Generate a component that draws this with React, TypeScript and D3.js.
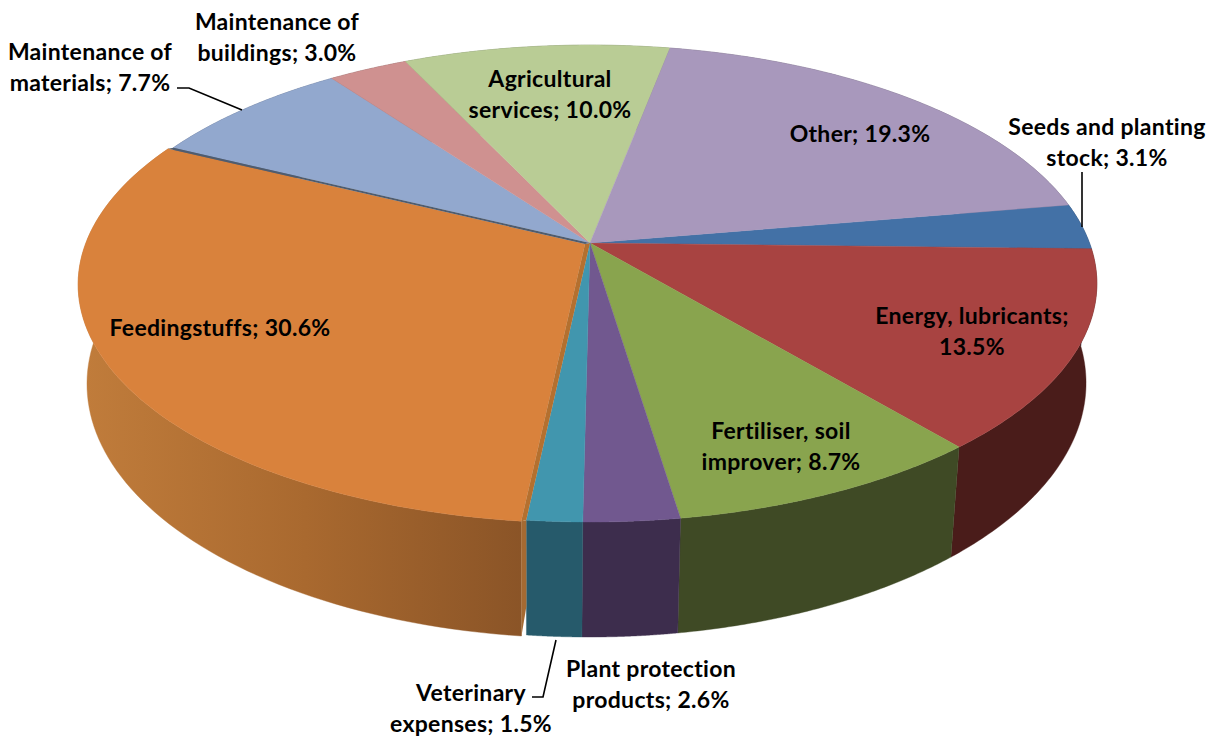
import React from "react";
import * as d3 from "d3";

const categories = ["Seeds and planting stock", "Energy, lubricants", "Fertiliser, soil improver", "Plant protection products", "Veterinary expenses", "Feedingstuffs", "Maintenance of materials", "Maintenance of buildings", "Agricultural services", "Other"];
const values = [3.1, 13.5, 8.7, 2.6, 1.5, 30.6, 7.7, 3.0, 10.0, 19.3];
const topColors = ["#4371A6", "#A84341", "#89A44E", "#71588F", "#4196AE", "#D9823C", "#92A8CE", "#CF9190", "#B9CC95", "#A898BC"];
const wallColors = ["#2a4464", "#4a1c1a", "#3f4a25", "#3d2d4d", "#265a6b", "url(#orangeWall)", "#586580", "#7d5857", "#6f7b5a", "#655d71"];
const explodedIndex = 5;

const labelLines = [
  ["Seeds and planting", "stock; 3.1%"],
  ["Energy, lubricants;", "13.5%"],
  ["Fertiliser, soil", "improver; 8.7%"],
  ["Plant protection", "products; 2.6%"],
  ["Veterinary", "expenses; 1.5%"],
  ["Feedingstuffs; 30.6%"],
  ["Maintenance of", "materials; 7.7%"],
  ["Maintenance of", "buildings; 3.0%"],
  ["Agricultural", "services; 10.0%"],
  ["Other; 19.3%"],
];
const labelAnchors: [number, number][] = [
  [1107, 135], [972, 324], [781, 439], [651, 677], [471, 701], [220, 336], [90, 60], [277, 30], [550, 87], [860, 142],
];
const leaders: [number, number][][] = [
  [[1082, 172], [1082, 227]],
  [[532, 697], [543, 697], [556, 640]],
  [[177, 88], [189, 88], [242, 110]],
];

const FONT = "Lato, 'Open Sans', sans-serif";

// perspective projection of the pie's circular top and bottom faces
const K = 0.17;
const topFace = { cx: 590, cy: 243, rx: 499.5, ry: 231.6 };
const bottomFace = { cx: 589, cy: 339.8, rx: 489.8, ry: 246.7 };

type Face = typeof topFace;
function project(face: Face, a: number, dx = 0, dy = 0): [number, number] {
  const u = Math.sin(a);
  const v = -Math.cos(a);
  const w = 1 - K * v;
  return [face.cx + dx + (face.rx * u) / w, face.cy + dy + (face.ry * v) / w];
}

const startDeg = 80.25;
const pieGen = d3
  .pie<number>()
  .sort(null)
  .startAngle((startDeg * Math.PI) / 180)
  .endAngle((startDeg * Math.PI) / 180 + 2 * Math.PI);

const line = d3.line<[number, number]>().curve(d3.curveLinear);

export default function App() {
  const arcs = pieGen(values);
  const items = arcs.map((d, i) => {
    const dx = i === explodedIndex ? -5 : 0;
    const dy = i === explodedIndex ? 1 : 0;
    const angles = d3.range(0, 81).map((t) => d.startAngle + ((d.endAngle - d.startAngle) * t) / 80);
    const topArc = angles.map((a) => project(topFace, a, dx, dy));
    const bottomArc = angles.map((a) => project(bottomFace, a, dx, dy));
    const apex: [number, number] = [topFace.cx + dx, topFace.cy + dy];
    return {
      i,
      top: line([apex, ...topArc])! + "Z",
      wall: line([...topArc, ...[...bottomArc].reverse()])! + "Z",
      apex,
      first: topArc[0],
      last: topArc[topArc.length - 1],
      firstBottom: bottomArc[0],
      lastBottom: bottomArc[bottomArc.length - 1],
    };
  });
  const orange = items[explodedIndex];
  const vet = items[explodedIndex - 1];
  const materials = items[explodedIndex + 1];
  const seam = d3.interpolateArray(vet.last, vet.lastBottom);
  return (
    <svg width={1223} height={736} style={{ position: "absolute", left: 0, top: 0, background: "#fff" }}>
      <defs>
        <linearGradient id="orangeWall" gradientUnits="userSpaceOnUse" x1={85} x2={526} y1={0} y2={0}>
          <stop offset="0" stopColor="#c07c3b" />
          <stop offset="0.5" stopColor="#a9692f" />
          <stop offset="1" stopColor="#8a5427" />
        </linearGradient>
      </defs>
      {items.map((it) => (
        <path key={"w" + it.i} d={it.wall} fill={wallColors[it.i]} stroke={wallColors[it.i]} strokeWidth={0.4} />
      ))}
      <path d={line([orange.first, vet.last, seam(0.75) as [number, number], orange.firstBottom])! + "Z"} fill="#a56a32" />
      {items.map((it) => (
        <path key={"t" + it.i} d={it.top} fill={topColors[it.i]} stroke={topColors[it.i]} strokeWidth={0.4} />
      ))}
      <path d={line([orange.apex, orange.first, vet.last, vet.apex])! + "Z"} fill="#b4702f" />
      <path d={line([orange.apex, orange.last, materials.first, materials.apex])! + "Z"} fill="#4f5c6e" />
      {leaders.map((pts, i) => (
        <path key={"l" + i} d={line(pts)!} fill="none" stroke="#000" strokeWidth={1.6} />
      ))}
      {categories.map((c, i) => (
        <text key={c} textAnchor="middle" fontFamily={FONT} fontWeight={700} fontSize={23} letterSpacing={0.3} fill="#000" aria-label={c}>
          {labelLines[i].map((t, j) => (
            <tspan key={j} x={labelAnchors[i][0]} y={labelAnchors[i][1] + j * 31}>
              {t}
            </tspan>
          ))}
        </text>
      ))}
    </svg>
  );
}
